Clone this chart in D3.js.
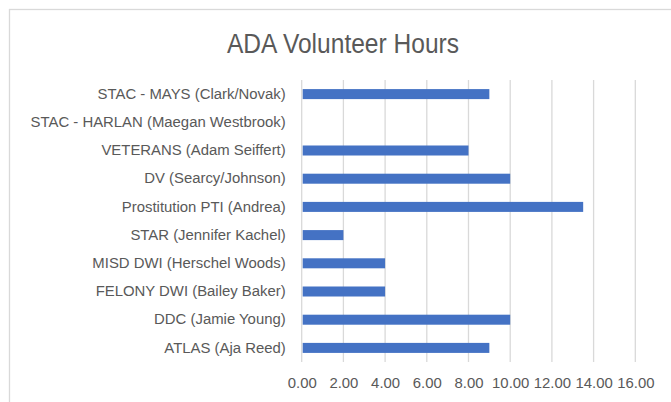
<!DOCTYPE html>
<html>
<head>
<meta charset="utf-8">
<script src="https://cdn.jsdelivr.net/npm/d3@7"></script>
<style>
  body { margin: 0; background: #fff; }
  svg { display: block; font-family: "Liberation Sans", Arial, sans-serif; }
</style>
</head>
<body>
<script>
// chart data (top to bottom)
const categories = [
  "STAC - MAYS (Clark/Novak)",
  "STAC - HARLAN (Maegan Westbrook)",
  "VETERANS (Adam Seiffert)",
  "DV (Searcy/Johnson)",
  "Prostitution PTI (Andrea)",
  "STAR (Jennifer Kachel)",
  "MISD DWI (Herschel Woods)",
  "FELONY DWI (Bailey Baker)",
  "DDC (Jamie Young)",
  "ATLAS (Aja Reed)"
];
const hours = [9, 0, 8, 10, 13.5, 2, 4, 4, 10, 9];
const xTicks = [0, 2, 4, 6, 8, 10, 12, 14, 16];

const width = 671;
const height = 402;
const textColor = "#595959";
const gridColor = "#d9d9d9";

const svg = d3.select("body")
  .append("svg")
  .attr("width", width)
  .attr("height", height);

// chart frame (runs off the right and bottom edge)
svg.append("rect")
  .attr("x", 9.5)
  .attr("y", 9.5)
  .attr("width", 700)
  .attr("height", 430)
  .attr("fill", "#fff")
  .attr("stroke", gridColor)
  .attr("stroke-width", 1.3);

svg.append("text")
  .attr("x", 343)
  .attr("y", 53)
  .attr("text-anchor", "middle")
  .attr("font-size", 27)
  .attr("textLength", 232)
  .attr("lengthAdjust", "spacingAndGlyphs")
  .attr("fill", textColor)
  .text("ADA Volunteer Hours");

const x = d3.scaleLinear()
  .domain([0, 16])
  .range([301.7, 635.3]);

const y = d3.scaleBand()
  .domain(categories)
  .range([80, 362])
  .paddingInner(0.645)
  .paddingOuter(0.3225);

// vertical gridlines
svg.append("g")
  .selectAll("line")
  .data(xTicks)
  .join("line")
  .attr("x1", d => x(d))
  .attr("x2", d => x(d))
  .attr("y1", 80)
  .attr("y2", 362)
  .attr("stroke", gridColor)
  .attr("stroke-width", 1.3);

// bars
svg.append("g")
  .selectAll("rect")
  .data(categories)
  .join("rect")
  .attr("x", x(0) + 1)
  .attr("y", d => y(d))
  .attr("height", y.bandwidth())
  .attr("width", (d, i) => Math.max(0, x(hours[i]) - x(0) - 1))
  .attr("fill", "#4472c4");

// category labels
const yAxis = svg.append("g")
  .attr("transform", `translate(${x(0)},0)`)
  .call(d3.axisLeft(y).tickSize(0).tickPadding(16));
yAxis.select(".domain").remove();
yAxis.selectAll("text")
  .attr("font-size", 14.9)
  .attr("font-family", "Liberation Sans, Arial, sans-serif")
  .attr("fill", textColor);

// value labels
const xAxis = svg.append("g")
  .attr("transform", "translate(0,362)")
  .call(d3.axisBottom(x).tickValues(xTicks).tickSize(0).tickPadding(15)
    .tickFormat(d3.format(".2f")));
xAxis.select(".domain").remove();
xAxis.selectAll("text")
  .attr("font-size", 14.9)
  .attr("font-family", "Liberation Sans, Arial, sans-serif")
  .attr("fill", textColor);
</script>
</body>
</html>
